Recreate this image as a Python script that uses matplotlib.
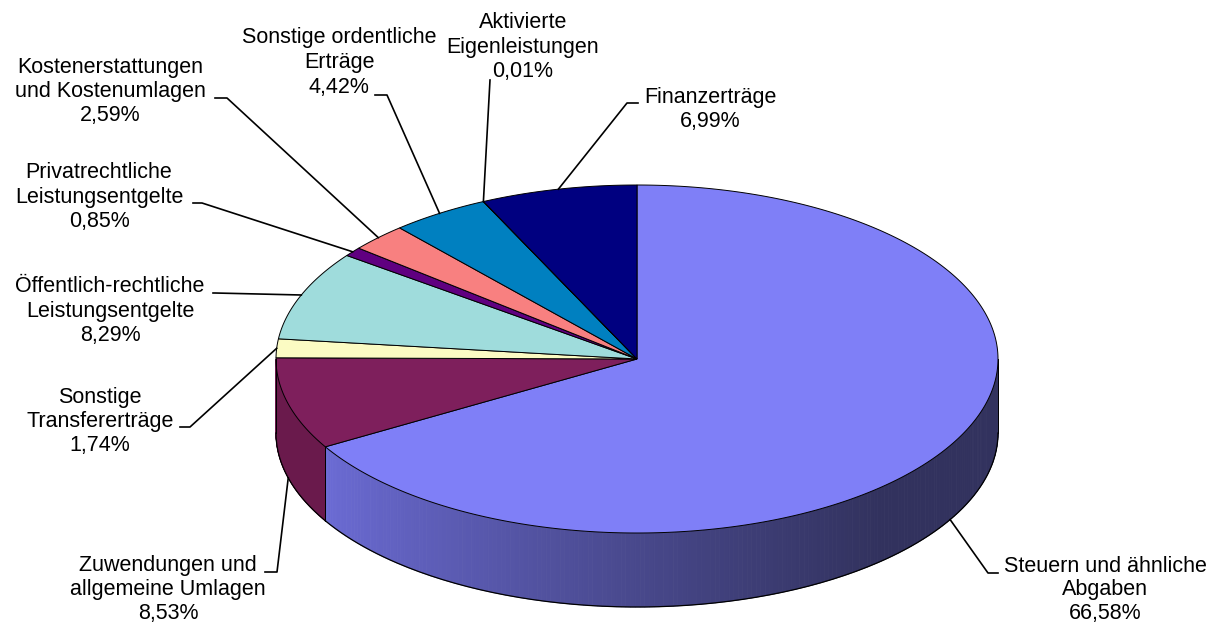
import numpy as np
import matplotlib
matplotlib.use("Agg")
import matplotlib.pyplot as plt
from matplotlib.patches import Polygon
from matplotlib.colors import to_rgb

# Daten
names = ["Steuern und ähnliche\nAbgaben",
         "Zuwendungen und\nallgemeine Umlagen",
         "Sonstige\nTransfererträge",
         "Öffentlich-rechtliche\nLeistungsentgelte",
         "Privatrechtliche\nLeistungsentgelte",
         "Kostenerstattungen\nund Kostenumlagen",
         "Sonstige ordentliche\nErträge",
         "Aktivierte\nEigenleistungen",
         "Finanzerträge"]
values = [66.58, 8.53, 1.74, 8.29, 0.85, 2.59, 4.42, 0.01, 6.99]

top_colors = ["#7f7ff7", "#7e1f5c", "#fbfbc3", "#9fdcdc", "#600080",
              "#f88080", "#0080c0", "#ccccff", "#000080"]
wall_left = ["#6c6cd6", "#6a1a4c", "#d0d0a0", "#80b0b0", "#4c0066",
             "#c66666", "#006699", "#a3a3cc", "#000066"]
wall_right = ["#32325e", "#6a1a4c", "#d0d0a0", "#80b0b0", "#4c0066",
              "#c66666", "#006699", "#a3a3cc", "#000066"]

# Layout (Pixel)
label_pos = [(1105, 566), (168, 565), (100, 397), (110, 287), (99, 173),
             (110, 67), (339, 38), (523, 23), (710, 97)]
elbow = [(988, 573), (277, 572), (190, 427), (215, 293), (202, 203),
         (227, 98), (387, 95), (490, 80), (627, 103)]
end = [(998, 573), (265, 572), (180, 427), (213, 293), (193, 203),
       (215, 98), (375, 95), (490, 80), (638, 103)]

cx, cy, rx, ry, depth = 637, 359, 361, 174, 74


def pt(t):
    r = np.radians(t)
    return cx + rx * np.cos(r), cy - ry * np.sin(r)


fig = plt.figure(figsize=(12.15, 6.25), dpi=100)
ax = fig.add_axes([0, 0, 1, 1])
ax.set_xlim(0, 1215)
ax.set_ylim(625, 0)
ax.axis("off")

cum = np.concatenate([[0], np.cumsum(values)])
bounds = 90 - 360 * cum / 100.0

# Seitenwand (vorne sichtbar: -180..0 Grad)
for i in range(len(values)):
    a_start, a_end = bounds[i], bounds[i + 1]
    lo, hi = max(a_end, -180), min(a_start, 0)
    if hi <= lo:
        continue
    ts = np.linspace(lo, hi, 200)
    c1, c2 = np.array(to_rgb(wall_left[i])), np.array(to_rgb(wall_right[i]))
    for k in range(len(ts) - 1):
        x1, y1 = pt(ts[k])
        x2, y2 = pt(ts[k + 1])
        f = np.clip(((x1 + x2) / 2 - 323) / (880 - 323), 0, 1) ** 0.85
        col = c1 + (c2 - c1) * f
        ax.add_patch(Polygon([(x1, y1), (x2, y2), (x2, y2 + depth), (x1, y1 + depth)],
                             closed=True, facecolor=col, edgecolor=col, lw=0.6))
    bx, by = pt(ts)
    ax.plot(bx, by + depth, color="black", lw=0.9)
    for t in (lo, hi):
        x, y = pt(t)
        ax.plot([x, x], [y, y + depth], color="black", lw=0.7)

# Oberseite
for i in range(len(values)):
    ts = np.linspace(bounds[i], bounds[i + 1], max(3, int(abs(bounds[i] - bounds[i + 1]) * 2)))
    xs, ys = pt(ts)
    poly = [(cx, cy)] + list(zip(xs, ys))
    ax.add_patch(Polygon(poly, closed=True, facecolor=top_colors[i],
                         edgecolor="black", lw=0.7))

# Beschriftungen mit Führungslinien
for i in range(len(values)):
    mid = (bounds[i] + bounds[i + 1]) / 2
    ax_, ay_ = pt(mid)
    if np.sin(np.radians(mid)) < 0:
        ay_ += depth
    ex, ey = elbow[i]
    nx, ny = end[i]
    ax.plot([ax_, ex, nx], [ay_, ey, ny], color="black", lw=1.2)
    lines = names[i].split("\n") + [f"{values[i]:.2f}%".replace(".", ",")]
    lx, ly = label_pos[i]
    step = 24.5 if i != 0 else 23.5
    for j, s in enumerate(lines):
        ax.text(lx, ly + j * step, s, ha="center", va="center",
                fontsize=15.5, family="Liberation Sans", color="black")

fig.savefig("out.png", dpi=100)
